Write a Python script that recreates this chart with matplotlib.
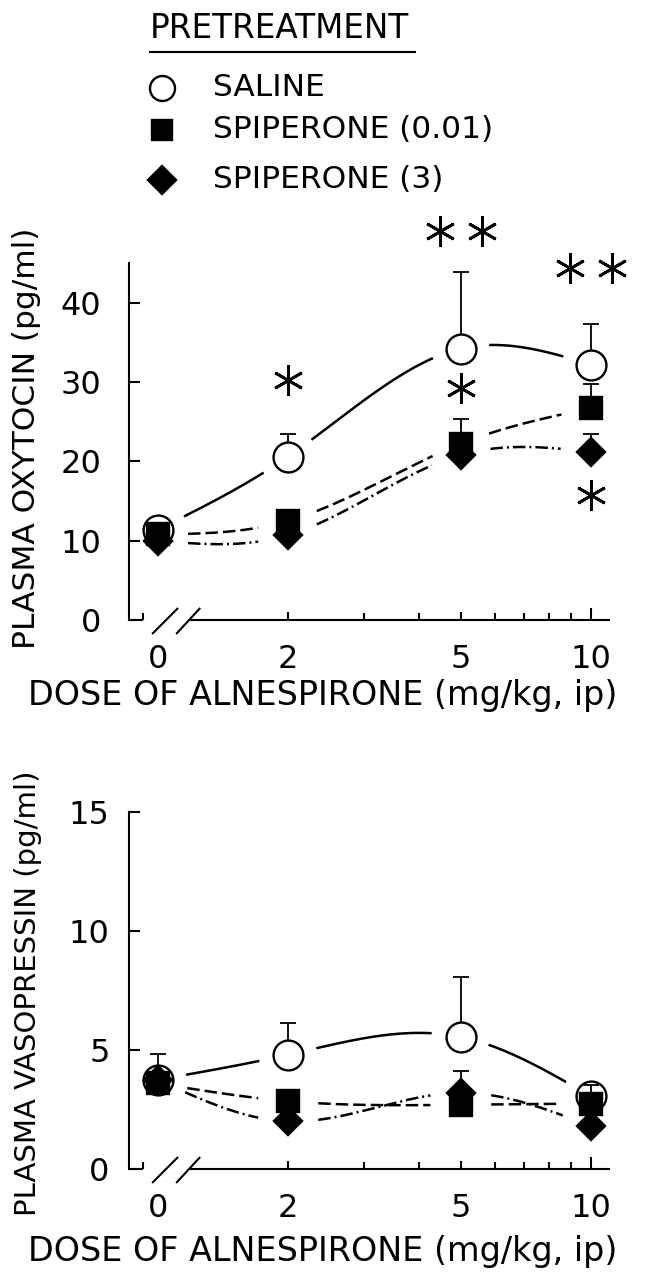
import numpy as np
import matplotlib
matplotlib.use('Agg')
import matplotlib.pyplot as plt
from matplotlib.lines import Line2D
from matplotlib.ticker import FixedLocator, NullFormatter
from matplotlib.transforms import offset_copy

plt.rcParams['font.family'] = ['DejaVu Sans']

# ---- data ----
doses = [0, 2, 5, 10]
dose_labels = ['0', '2', '5', '10']
groups = ['SALINE', 'SPIPERONE (0.01)', 'SPIPERONE (3)']

# plasma oxytocin (pg/ml), mean and SEM
oxy_saline = [11.4, 20.6, 34.2, 32.2]
oxy_saline_sem = [0.8, 2.8, 9.7, 5.1]
oxy_spi001 = [10.8, 12.5, 22.2, 26.7]
oxy_spi001_sem = [0.4, 0.4, 3.1, 3.1]
oxy_spi3 = [10.0, 10.7, 20.8, 21.2]
oxy_spi3_sem = [0.4, 0.4, 0.4, 2.3]

# plasma vasopressin (pg/ml), mean and SEM
avp_saline = [3.75, 4.8, 5.55, 3.05]
avp_saline_sem = [1.1, 1.35, 2.5, 0.3]
avp_spi001 = [3.6, 2.85, 2.7, 2.75]
avp_spi001_sem = [0.2, 0.2, 0.2, 0.8]
avp_spi3 = [3.75, 2.0, 3.2, 1.8]
avp_spi3_sem = [0.2, 0.2, 0.9, 0.2]

# significance marks on the oxytocin panel
oxy_sig_dose = [2, 5, 5, 10, 10]
oxy_sig_y = [30.2, 49.0, 29.2, 44.4, 15.7]
oxy_sig_n = [1, 2, 1, 2, 1]

W, H = 645, 1272
fig = plt.figure(figsize=(W / 100, H / 100), dpi=100)
fig.patch.set_facecolor('white')


def px(x, y):
    """pixel position (from top-left) -> figure fraction"""
    return x / W, 1 - y / H


def dose_x(d):
    # dose 0 sits at 1 on the log axis, behind the axis break
    d = np.asarray(d, float)
    return np.where(d == 0, 1.0, d)


def natural_spline(xk, yk, xs):
    xk = np.asarray(xk, float)
    yk = np.asarray(yk, float)
    n = len(xk)
    h = np.diff(xk)
    A = np.zeros((n, n))
    b = np.zeros(n)
    A[0, 0] = A[-1, -1] = 1
    for i in range(1, n - 1):
        A[i, i - 1] = h[i - 1]
        A[i, i] = 2 * (h[i - 1] + h[i])
        A[i, i + 1] = h[i]
        b[i] = 6 * ((yk[i + 1] - yk[i]) / h[i] - (yk[i] - yk[i - 1]) / h[i - 1])
    M = np.linalg.solve(A, b)
    idx = np.clip(np.searchsorted(xk, xs) - 1, 0, n - 2)
    x0, x1 = xk[idx], xk[idx + 1]
    hh = x1 - x0
    t0, t1 = x1 - xs, xs - x0
    return ((M[idx] * t0 ** 3 + M[idx + 1] * t1 ** 3) / (6 * hh)
            + (yk[idx] / hh - M[idx] * hh / 6) * t0
            + (yk[idx + 1] / hh - M[idx + 1] * hh / 6) * t1)


def draw_series(ax, mean, sem, marker, ms, face, ls, z):
    x = dose_x(doses)
    u = np.log10(x)
    us = np.linspace(u[0], u[-1], 600)
    ys = natural_spline(u, mean, us)
    xs = 10 ** us
    # break the curve around each symbol
    pts = ax.transData.transform(np.column_stack([xs, ys]))
    ctr = ax.transData.transform(np.column_stack([x, mean]))
    dist = np.min(np.hypot(pts[:, None, 0] - ctr[None, :, 0],
                           pts[:, None, 1] - ctr[None, :, 1]), axis=1)
    ys = np.where(dist < 30, np.nan, ys)
    ax.plot(xs, ys, color='black', lw=1.8, ls=ls, zorder=1)
    ax.errorbar(x, mean, yerr=[np.zeros(len(sem)), sem], fmt='none',
                ecolor='black', elinewidth=1.3, capsize=5.5, capthick=1.3,
                zorder=z)
    ax.plot(x, mean, ls='none', marker=marker, ms=ms, mfc=face, mec='black',
            mew=1.7, zorder=z + 0.5)


def setup_axes(ax, ylim, yticks, ypad):
    ax.set_xscale('log')
    ax.set_xlim(0.859, 11.06)
    ax.set_ylim(*ylim)
    for s in ['top', 'right', 'bottom']:
        ax.spines[s].set_visible(False)
    ax.spines['left'].set_linewidth(1.5)
    ax.set_yticks(yticks)
    ax.tick_params(axis='y', direction='in', length=8, width=1.5,
                   labelsize=23, pad=ypad)
    ax.set_xticks(dose_x(doses))
    ax.set_xticklabels(dose_labels)
    ax.xaxis.set_minor_locator(FixedLocator([0.926, 3, 4, 6, 7, 8, 9]))
    ax.xaxis.set_minor_formatter(NullFormatter())
    ax.tick_params(axis='x', which='major', direction='in', length=5.5,
                   width=1.5, labelsize=23, pad=17)
    ax.tick_params(axis='x', which='minor', direction='in', length=5,
                   width=1.5)
    ticks = ax.xaxis.get_major_ticks()
    ticks[0].tick1line.set_visible(False)
    ticks[-1].tick1line.set_markersize(9)
    # x axis with a break between 0 and 2
    ah = ax.get_position().height * H
    kw = dict(transform=ax.transAxes, color='black', lw=1.5, clip_on=False,
              solid_capstyle='butt')
    ax.add_line(Line2D([0, 0.03], [0, 0], **kw))
    ax.add_line(Line2D([0.127, 1], [0, 0], **kw))
    ax.add_line(Line2D([0.048, 0.102], [-14 / ah, 12 / ah], **kw))
    ax.add_line(Line2D([0.098, 0.148], [-14 / ah, 12 / ah], **kw))


# ---- oxytocin panel ----
ax1 = fig.add_axes([129 / W, 1 - 620 / H, 481 / W, 357 / H])
setup_axes(ax1, (0, 45), [0, 10, 20, 30, 40], 20)
draw_series(ax1, oxy_saline, oxy_saline_sem, 'o', 21.5, 'white', '-', 2)
draw_series(ax1, oxy_spi001, oxy_spi001_sem, 's', 16.5, 'black', (0, (5, 2)), 4)
draw_series(ax1, oxy_spi3, oxy_spi3_sem, 'D', 14.5, 'black', (0, (5, 1.6, 0.8, 1.6)), 6)

for d, yv, n in zip(oxy_sig_dose, oxy_sig_y, oxy_sig_n):
    offsets = [0] if n == 1 else [-21, 21]
    for dx in offsets:
        tr = offset_copy(ax1.transData, fig=fig, x=dx, y=0, units='dots')
        ax1.plot(dose_x([d]), [yv], ls='none', marker=(6, 2, 0), ms=22,
                 mec='black', mew=2.0, transform=tr, clip_on=False, zorder=8)

fig.text(*px(27, 438), 'PLASMA OXYTOCIN (pg/ml)', rotation=90,
         ha='center', va='center', fontsize=22.5)
fig.text(*px(323, 696), 'DOSE OF ALNESPIRONE (mg/kg, ip)',
         ha='center', va='center', fontsize=24)

# ---- vasopressin panel ----
ax2 = fig.add_axes([129 / W, 1 - 1169 / H, 481 / W, 357 / H])
setup_axes(ax2, (0, 15), [0, 5, 10, 15], 14)
draw_series(ax2, avp_saline, avp_saline_sem, 'o', 21.5, 'white', '-', 2)
draw_series(ax2, avp_spi001, avp_spi001_sem, 's', 16.5, 'black', (0, (5, 2)), 4)
draw_series(ax2, avp_spi3, avp_spi3_sem, 'D', 14.5, 'black', (0, (5, 1.6, 0.8, 1.6)), 6)

fig.text(*px(28, 993), 'PLASMA VASOPRESSIN (pg/ml)', rotation=90,
         ha='center', va='center', fontsize=21)
fig.text(*px(323, 1252), 'DOSE OF ALNESPIRONE (mg/kg, ip)',
         ha='center', va='center', fontsize=24)

# ---- legend block at the top ----
fig.text(*px(150, 28), 'PRETREATMENT', ha='left', va='center', fontsize=23.5)
fig.add_artist(Line2D([150 / W, 415 / W], [1 - 52 / H, 1 - 52 / H],
                      transform=fig.transFigure, color='black', lw=1.5))
leg_style = [('o', 18, 'white'), ('s', 15, 'black'), ('D', 14, 'black')]
for (mk, ms, fc), name, yy in zip(leg_style, groups, [88, 130, 180]):
    fig.add_artist(Line2D([162 / W], [1 - yy / H], transform=fig.transFigure,
                          ls='none', marker=mk, ms=ms, mfc=fc, mec='black',
                          mew=1.7))
    fig.text(*px(213, yy), name, ha='left', va='center', fontsize=22.5)

fig.savefig('out.png', dpi=100, facecolor='white')
